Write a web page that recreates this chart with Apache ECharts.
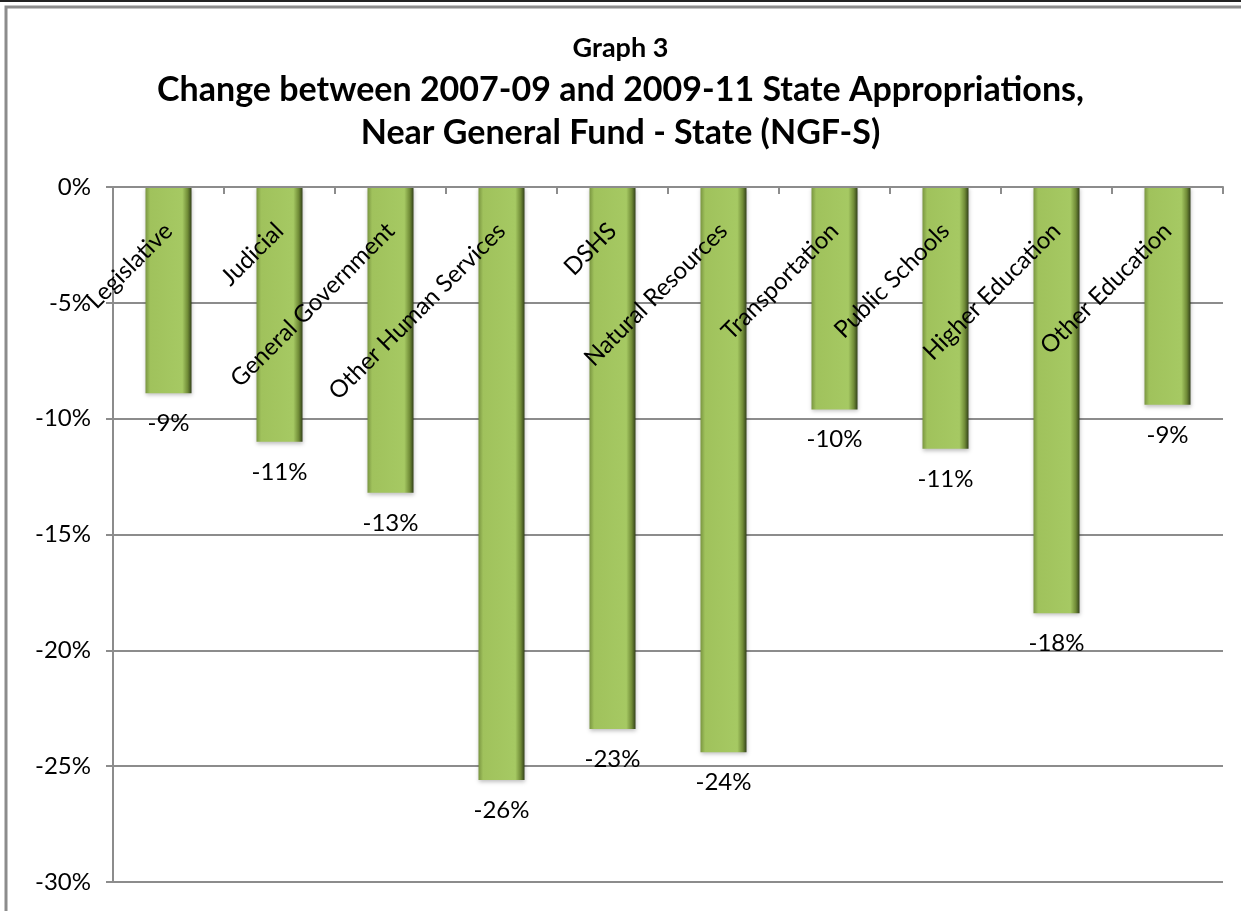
<!doctype html>
<html>
<head>
<meta charset="utf-8">
<title>Graph 3</title>
<script src="https://cdn.jsdelivr.net/npm/echarts@6/dist/echarts.min.js"></script>
<style>
  html, body { margin: 0; padding: 0; background: #fff; }
  #chart { width: 1241px; height: 911px; }
</style>
</head>
<body>
<div id="chart"></div>
<script>
// categories and changes (%)
var categories = ['Legislative', 'Judicial', 'General Government', 'Other Human Services', 'DSHS',
                  'Natural Resources', 'Transportation', 'Public Schools', 'Higher Education', 'Other Education'];
var changes = [-8.9, -11.0, -13.2, -25.6, -23.4, -24.4, -9.6, -11.3, -18.4, -9.4];
var yTicks = [0, -5, -10, -15, -20, -25, -30];

var FONT = 'Lato, sans-serif';

var chart = echarts.init(document.getElementById('chart'));

// bevelled green bar look
var barFill = new echarts.graphic.LinearGradient(0, 0, 1, 0, [
  { offset: 0, color: '#7a9641' },
  { offset: 0.1, color: '#a0c25c' },
  { offset: 0.8, color: '#a6c963' },
  { offset: 0.92, color: '#6f8a36' },
  { offset: 1, color: '#33411a' }
]);

chart.setOption({
  animation: false,
  backgroundColor: '#fff',
  title: [
    {
      text: 'Graph 3',
      left: 'center',
      top: 30,
      textStyle: { fontFamily: FONT, fontWeight: 'bold', fontSize: 27, color: '#000' }
    },
    {
      text: 'Change between 2007-09 and 2009-11 State Appropriations,\nNear General Fund - State (NGF-S)',
      left: 'center',
      top: 64,
      textStyle: { fontFamily: FONT, fontWeight: 'bold', fontSize: 34, lineHeight: 43, color: '#000', align: 'center' }
    }
  ],
  graphic: [
    { type: 'line', shape: { x1: 0, y1: 1, x2: 1241, y2: 1 }, style: { stroke: '#222', lineWidth: 2 } },
    { type: 'polyline', shape: { points: [[6, 911], [6, 7], [1241, 7]] }, style: { stroke: '#8c8c8c', lineWidth: 3, fill: null } }
  ],
  grid: { left: 113, right: 18, top: 187, bottom: 29 },
  xAxis: {
    type: 'category',
    position: 'top',
    z: 10,
    data: categories,
    axisLine: { show: true, lineStyle: { color: '#8c8c8c', width: 2 } },
    axisTick: { show: true, inside: true, length: 7, lineStyle: { color: '#8c8c8c', width: 2 } },
    axisLabel: {
      inside: true,
      rotate: 45,
      margin: 40,
      interval: 0,
      hideOverlap: false,
      width: 500,
      overflow: 'none',
      fontFamily: FONT,
      fontSize: 24,
      color: '#000'
    },
    splitLine: { show: false }
  },
  yAxis: {
    type: 'value',
    min: -30,
    max: 0,
    interval: 5,
    axisLine: { show: true, lineStyle: { color: '#8c8c8c', width: 2 } },
    axisTick: { show: true, length: 7, lineStyle: { color: '#8c8c8c', width: 2 } },
    axisLabel: {
      margin: 22,
      fontFamily: FONT,
      fontSize: 24,
      color: '#000',
      formatter: function (v) { return yTicks.indexOf(v) >= 0 ? v + '%' : ''; }
    },
    splitLine: { show: true, lineStyle: { color: '#8c8c8c', width: 2 } }
  },
  series: [{
    type: 'bar',
    z: 2,
    data: changes,
    barWidth: 46,
    itemStyle: {
      color: barFill,
      shadowColor: 'rgba(0,0,0,0.25)',
      shadowBlur: 4,
      shadowOffsetY: 2
    },
    label: {
      show: true,
      position: 'bottom',
      distance: 18,
      fontFamily: FONT,
      fontSize: 24,
      color: '#000',
      formatter: function (p) { return Math.round(p.value) + '%'; }
    }
  }]
});
</script>
</body>
</html>
